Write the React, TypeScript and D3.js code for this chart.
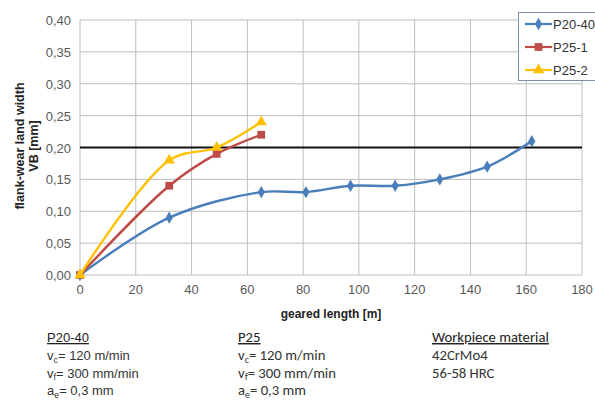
import React, { FC, useEffect, useRef } from "react"
import {
  select,
  scaleLinear,
  line,
  curveCatmullRom,
  symbol,
  symbolDiamond,
  symbolSquare,
  symbolTriangle,
  range,
} from "d3"

// data
const seriesNames = ["P20-40", "P25-1", "P25-2"]
const p2040Length = [0, 32, 65, 81, 97, 113, 129, 146, 162]
const p2040Wear = [0, 0.09, 0.13, 0.13, 0.14, 0.14, 0.15, 0.17, 0.21]
const p251Length = [0, 32, 49, 65]
const p251Wear = [0, 0.14, 0.19, 0.22]
const p252Length = [0, 32, 49, 65]
const p252Wear = [0, 0.18, 0.2, 0.24]
const xTicks = [0, 20, 40, 60, 80, 100, 120, 140, 160, 180]
const yTicks = [0, 0.05, 0.1, 0.15, 0.2, 0.25, 0.3, 0.35, 0.4]
const limitWear = 0.2

type P = { x: number; y: number }

const App: FC = () => {
  const svgRef = useRef<SVGSVGElement>(null)

  useEffect(() => {
    drawChart()
  }, [])

  const drawChart = () => {
    const svg = select(svgRef.current)
    svg.selectAll("*").remove()

    const bounds = { left: 80, right: 582, top: 20, bottom: 275 }
    const font = "'Liberation Sans', Arial, sans-serif"
    const calibri = "Carlito, Calibri, 'Open Sans', sans-serif"

    const xScale = scaleLinear().domain([0, 180]).range([bounds.left, bounds.right])
    const yScale = scaleLinear().domain([0, 0.4]).range([bounds.bottom, bounds.top])

    // grid
    svg
      .append("g")
      .selectAll("line")
      .data(xTicks)
      .join("line")
      .attr("x1", (d) => xScale(d))
      .attr("x2", (d) => xScale(d))
      .attr("y1", bounds.top)
      .attr("y2", bounds.bottom)
      .attr("stroke", "#bdbdbd")
      .attr("stroke-width", 1)
    svg
      .append("g")
      .selectAll("line")
      .data(yTicks)
      .join("line")
      .attr("x1", bounds.left)
      .attr("x2", bounds.right)
      .attr("y1", (d) => yScale(d))
      .attr("y2", (d) => yScale(d))
      .attr("stroke", "#bdbdbd")
      .attr("stroke-width", 1)

    // tick labels
    svg
      .append("g")
      .selectAll("text")
      .data(yTicks)
      .join("text")
      .attr("x", bounds.left - 9)
      .attr("y", (d) => yScale(d) + 5)
      .attr("text-anchor", "end")
      .attr("font-family", font)
      .attr("font-size", 13)
      .attr("fill", "#595959")
      .text((d) => d.toFixed(2).replace(".", ","))
    svg
      .append("g")
      .selectAll("text")
      .data(xTicks)
      .join("text")
      .attr("x", (d) => xScale(d))
      .attr("y", bounds.bottom + 19)
      .attr("text-anchor", "middle")
      .attr("font-family", font)
      .attr("font-size", 13)
      .attr("fill", "#595959")
      .text((d) => d)

    // axis titles
    svg
      .append("text")
      .attr("x", (bounds.left + bounds.right) / 2)
      .attr("y", 318)
      .attr("text-anchor", "middle")
      .attr("font-family", font)
      .attr("font-size", 12)
      .attr("font-weight", "bold")
      .attr("fill", "#222")
      .text("geared length [m]")
    const yTitle = svg
      .append("text")
      .attr("transform", `translate(24, 146) rotate(-90)`)
      .attr("text-anchor", "middle")
      .attr("font-family", font)
      .attr("font-size", 12.5)
      .attr("font-weight", "bold")
      .attr("fill", "#222")
    yTitle.append("tspan").attr("x", 0).attr("dy", 0).text("flank-wear land width")
    yTitle.append("tspan").attr("x", 0).attr("dy", 14).text("VB [mm]")

    // limit line
    svg
      .append("line")
      .attr("x1", bounds.left)
      .attr("x2", bounds.right)
      .attr("y1", yScale(limitWear))
      .attr("y2", yScale(limitWear))
      .attr("stroke", "#111")
      .attr("stroke-width", 2)

    // series
    const zip = (xs: number[], ys: number[]): P[] => xs.map((x, i) => ({ x, y: ys[i] }))
    const series = [
      { name: seriesNames[0], data: zip(p2040Length, p2040Wear), color: "#4a7ebb", shape: symbolDiamond, size: 45 },
      { name: seriesNames[1], data: zip(p251Length, p251Wear), color: "#be4b48", shape: symbolSquare, size: 60 },
      { name: seriesNames[2], data: zip(p252Length, p252Wear), color: "#ffc000", shape: symbolTriangle, size: 55 },
    ]

    const lineGen = line<P>()
      .x((d) => xScale(d.x))
      .y((d) => yScale(d.y))
      .curve(curveCatmullRom.alpha(0.5))

    series.forEach((s) => {
      svg
        .append("path")
        .datum(s.data)
        .attr("d", lineGen)
        .attr("fill", "none")
        .attr("stroke", s.color)
        .attr("stroke-width", 2.4)
      svg
        .append("g")
        .selectAll("path")
        .data(s.data)
        .join("path")
        .attr("transform", (d) => `translate(${xScale(d.x)},${yScale(d.y)})`)
        .attr("d", symbol(s.shape, s.size)())
        .attr("fill", s.color)
    })

    // legend
    const legend = svg.append("g").attr("transform", "translate(518, 12)")
    legend
      .append("rect")
      .attr("x", 0.5)
      .attr("y", 0.5)
      .attr("width", 90)
      .attr("height", 68)
      .attr("fill", "#fff")
      .attr("stroke", "#7f8fa9")
      .attr("stroke-width", 1)
    range(series.length).forEach((i) => {
      const s = series[i]
      const cy = 12 + i * 23
      legend
        .append("line")
        .attr("x1", 7)
        .attr("x2", 34)
        .attr("y1", cy)
        .attr("y2", cy)
        .attr("stroke", s.color)
        .attr("stroke-width", 2.2)
      legend
        .append("path")
        .attr("transform", `translate(20.5,${cy})`)
        .attr("d", symbol(s.shape, s.size)())
        .attr("fill", s.color)
      legend
        .append("text")
        .attr("x", 35)
        .attr("y", cy + 5)
        .attr("font-family", font)
        .attr("font-size", 13)
        .attr("fill", "#333")
        .text(s.name)
    })

    // process parameters
    const blocks = [
      { x: 47, title: "P20-40", font: font, size: 13, lines: [["v", "c", "= 120 m/min"], ["v", "f", "= 300 mm/min"], ["a", "e", "= 0,3 mm"]] },
      { x: 238, title: "P25", font: calibri, size: 14.7, lines: [["v", "c", "= 120 m/min"], ["v", "f", "= 300 mm/min"], ["a", "e", "= 0,3 mm"]] },
      { x: 432, title: "Workpiece material", font: calibri, size: 14.7, lines: [["42CrMo4", "", ""], ["56-58 HRC", "", ""]] },
    ]
    blocks.forEach((b) => {
      svg
        .append("text")
        .attr("x", b.x)
        .attr("y", 342)
        .attr("font-family", b.font)
        .attr("font-size", b.size)
        .attr("fill", "#222")
        .attr("text-decoration", "underline")
        .text(b.title)
      b.lines.forEach((l, i) => {
        const t = svg
          .append("text")
          .attr("x", b.x)
          .attr("y", 360 + i * 17.5)
          .attr("font-family", b.font)
          .attr("font-size", b.size)
          .attr("fill", "#333")
        t.append("tspan").text(l[0])
        if (l[1]) {
          t.append("tspan").attr("font-size", b.size * 0.68).attr("dy", 2.5).text(l[1])
          t.append("tspan").attr("dy", -2.5).text(l[2])
        }
      })
    })
  }

  return (
    <svg
      ref={svgRef}
      width={595}
      height={401}
      style={{ position: "absolute", left: 0, top: 0, background: "#fff" }}
    />
  )
}

export default App
